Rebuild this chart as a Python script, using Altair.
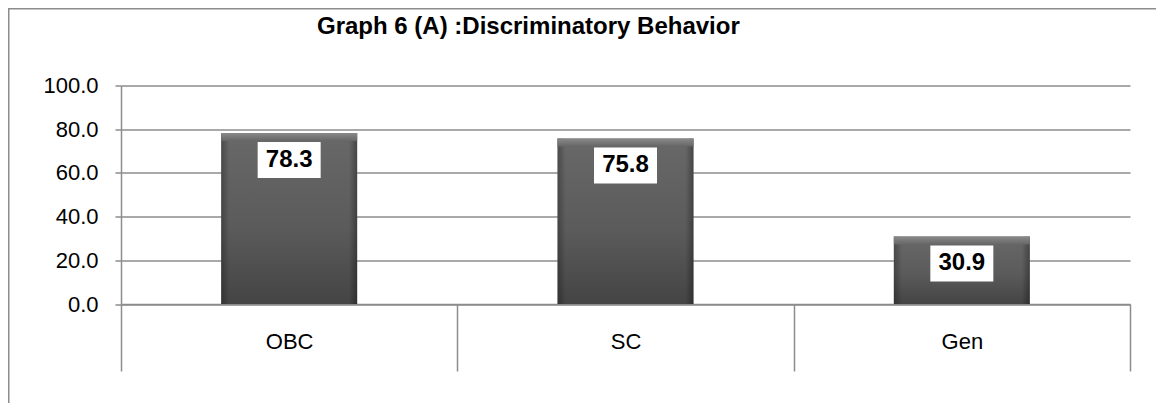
import altair as alt
import pandas as pd

categories = ["OBC", "SC", "Gen"]
values = [78.3, 75.8, 30.9]
y_ticks = [0, 20, 40, 60, 80, 100]
title_text = "Graph 6 (A) :Discriminatory Behavior"

df = pd.DataFrame({"cat": categories, "val": values})
FONT = "Liberation Sans"
GRAY = "#8c8c8c"

x_enc = alt.X(
    "cat:N",
    sort=categories,
    scale=alt.Scale(paddingInner=0, paddingOuter=0),
    axis=alt.Axis(
        title=None, labelAngle=0, labelFont=FONT, labelFontSize=22,
        labelColor="black", tickBand="extent", tickSize=67,
        tickColor=GRAY, tickWidth=1.5, domainColor=GRAY, domainWidth=1.5,
        labelPadding=-40, grid=False,
    ),
)
y_enc = alt.Y(
    "val:Q",
    scale=alt.Scale(domain=[0, 100], nice=False),
    axis=alt.Axis(
        title=None, values=y_ticks, format=".1f", labelFont=FONT,
        labelFontSize=22, labelColor="black", tickSize=6, labelPadding=17,
        tickColor=GRAY, tickWidth=1.5, domainColor=GRAY, domainWidth=1.5,
        gridColor=GRAY, gridWidth=1.5,
    ),
)

base = alt.Chart(df)

frame = alt.Chart(pd.DataFrame({"k": [0]})).mark_rect(
    fillOpacity=0, stroke=GRAY, strokeWidth=1.5
).encode(
    x=alt.value(-112.25), x2=alt.value(1300),
    y=alt.value(-76.75), y2=alt.value(600),
)

vgrad = alt.LinearGradient(
    gradient="linear",
    stops=[
        alt.GradientStop(color="#686868", offset=0),
        alt.GradientStop(color="#5b5b5b", offset=0.55),
        alt.GradientStop(color="#444444", offset=1),
    ],
    x1=0, x2=0, y1=0, y2=1,
)
hgrad = alt.LinearGradient(
    gradient="linear",
    stops=[
        alt.GradientStop(color="rgba(0,0,0,0.28)", offset=0),
        alt.GradientStop(color="rgba(0,0,0,0)", offset=0.06),
        alt.GradientStop(color="rgba(0,0,0,0)", offset=0.94),
        alt.GradientStop(color="rgba(0,0,0,0.32)", offset=1),
    ],
    x1=0, x2=1, y1=0, y2=0,
)
topgrad = alt.LinearGradient(
    gradient="linear",
    stops=[
        alt.GradientStop(color="#8a8a8a", offset=0),
        alt.GradientStop(color="#666666", offset=1),
    ],
    x1=0, x2=0, y1=0, y2=1,
)

bars = base.mark_bar(width=136, color=vgrad).encode(x=x_enc, y=y_enc, y2=alt.datum(0))
shade = base.mark_bar(width=136, color=hgrad).encode(x=x_enc, y=y_enc, y2=alt.datum(0))
bevel = base.mark_bar(width=136, color=topgrad, y2Offset=8).encode(
    x=x_enc, y=y_enc, y2=alt.Y2("val:Q")
)
box = base.mark_bar(width=63, color="white", yOffset=9, y2Offset=45).encode(
    x=x_enc, y=y_enc, y2=alt.Y2("val:Q")
)
labels = base.mark_text(
    font=FONT, fontSize=24, fontWeight="bold", color="black",
    baseline="middle", align="center", yOffset=27,
).encode(x=x_enc, y=y_enc, text=alt.Text("val:Q", format=".1f"))

chart = alt.layer(frame, bars, shade, bevel, box, labels).properties(
    width=1009,
    height=218.5,
    title=alt.TitleParams(
        text=title_text, anchor="start", frame="group", dx=196, dy=35,
        offset=4, font=FONT, fontSize=24, fontWeight="bold", color="black",
    ),
    autosize=alt.AutoSizeParams(type="none"),
    padding={"left": 113, "top": 77.5, "right": 26, "bottom": 99},
).configure_view(stroke=None)

chart.save("out.html", embed_options={"renderer": "svg", "actions": False})
